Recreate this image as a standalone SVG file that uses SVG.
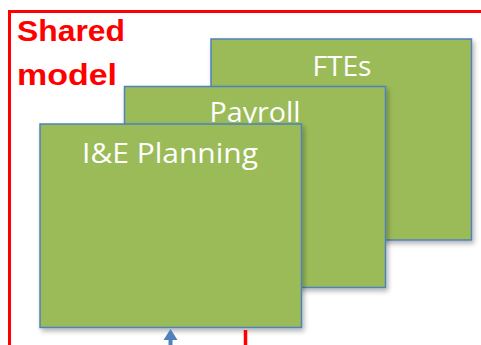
<svg xmlns="http://www.w3.org/2000/svg" width="481" height="345" viewBox="0 0 481 345">
  <defs>
    <filter id="shadow" x="-10%" y="-10%" width="120%" height="120%">
      <feGaussianBlur in="SourceAlpha" stdDeviation="2.5"/>
      <feOffset dx="2" dy="3" result="b"/>
      <feComponentTransfer><feFuncA type="linear" slope="0.3"/></feComponentTransfer>
      <feMerge><feMergeNode/><feMergeNode in="SourceGraphic"/></feMerge>
    </filter>
  </defs>
  <style>
    .card { fill: #9BBB59; stroke: #4F81BD; stroke-width: 1.5; filter: url(#shadow); }
    .card-label { font-family: "Open Sans", "Liberation Sans", sans-serif; font-size: 27px; fill: #ffffff; text-anchor: middle; }
    .frame { fill: none; stroke: #FF0000; stroke-width: 3; }
    .title { font-family: "Liberation Sans", Arial, sans-serif; font-weight: bold; font-size: 30px; fill: #FF0000; }
    .up-arrow { fill: #4F81BD; }
  </style>

  <rect width="481" height="345" fill="#ffffff"/>

  <g id="shared-model">
    <path class="frame" d="M9.5,345 L9.5,11.5 L481,11.5"/>
    <text class="title" x="17" y="41" textLength="108" lengthAdjust="spacingAndGlyphs">Shared</text>
    <text class="title" x="17" y="85" textLength="100" lengthAdjust="spacingAndGlyphs">model</text>
  </g>

  <g id="ftes">
    <rect class="card" x="211" y="39" width="260.5" height="201"/>
    <text class="card-label" x="342" y="76" textLength="59" lengthAdjust="spacingAndGlyphs">FTEs</text>
  </g>

  <g id="payroll">
    <rect class="card" x="124.5" y="86.5" width="261" height="201"/>
    <text class="card-label" x="255" y="122" textLength="91" lengthAdjust="spacingAndGlyphs">Payroll</text>
  </g>

  <g id="ie-planning">
    <rect class="card" x="40" y="124" width="261.5" height="203.5"/>
    <text class="card-label" x="170" y="163" textLength="176" lengthAdjust="spacingAndGlyphs">I&amp;E Planning</text>
  </g>

  <g id="connectors">
    <path class="up-arrow" d="M170.5,329 L177.5,340 L172.5,340 L172.5,345 L168.5,345 L168.5,340 L163.5,340 Z"/>
    <line x1="245.5" y1="330" x2="245.5" y2="345" stroke="#FF0000" stroke-width="3.5"/>
  </g>
</svg>
